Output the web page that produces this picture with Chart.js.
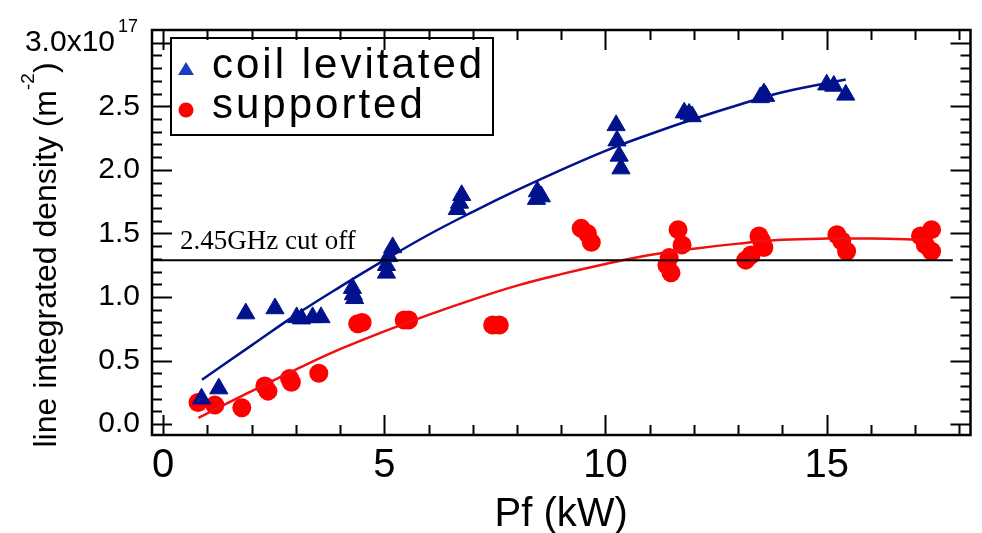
<!DOCTYPE html>
<html>
<head>
<meta charset="utf-8">
<script src="https://cdn.jsdelivr.net/npm/chart.js@4.4.1/dist/chart.umd.min.js"></script>
<style>
html, body { margin: 0; padding: 0; background: #fff; }
canvas { display: block; }
</style>
</head>
<body>
<canvas id="density-chart" width="982" height="533"></canvas>
<script>
// coil levitated (blue triangles)
var coilX = [0.87, 1.26, 1.87, 2.53, 3.02, 3.13, 3.38, 3.57, 4.28, 4.30, 4.33, 5.19, 5.10, 5.05, 5.05, 6.75, 6.70, 6.65, 8.46, 8.55, 8.44, 10.24, 10.26, 10.31, 10.35, 11.78, 11.89, 11.96, 13.50, 13.58, 13.62, 15.00, 15.16, 15.43];
var coilY = [0.20, 0.28, 0.87, 0.91, 0.84, 0.83, 0.84, 0.84, 1.07, 1.02, 0.99, 1.39, 1.32, 1.25, 1.19, 1.80, 1.74, 1.69, 1.83, 1.79, 1.77, 2.35, 2.23, 2.11, 2.01, 2.45, 2.44, 2.42, 2.57, 2.60, 2.58, 2.67, 2.66, 2.59];

// supported (red circles)
var suppX = [0.79, 1.17, 1.78, 2.30, 2.37, 2.86, 2.90, 3.52, 4.40, 4.50, 5.45, 5.55, 7.45, 7.60, 9.45, 9.59, 9.68, 11.64, 11.73, 11.44, 11.39, 11.48, 13.17, 13.29, 13.47, 13.53, 13.58, 15.23, 15.34, 15.45, 17.12, 17.37, 17.23, 17.37];
var suppY = [0.17, 0.15, 0.13, 0.30, 0.26, 0.36, 0.33, 0.40, 0.79, 0.80, 0.82, 0.82, 0.78, 0.78, 1.54, 1.50, 1.43, 1.53, 1.41, 1.31, 1.25, 1.19, 1.29, 1.33, 1.48, 1.44, 1.39, 1.49, 1.44, 1.36, 1.48, 1.53, 1.41, 1.36];

// fitted curves
var coilFitX = [0.88, 2, 3, 4, 5, 6, 7, 8, 9, 10, 11, 12, 13, 14, 15.43];
var coilFitY = [0.35, 0.62, 0.86, 1.08, 1.29, 1.49, 1.67, 1.84, 2.00, 2.15, 2.28, 2.40, 2.51, 2.61, 2.71];
var suppFitX = [0.80, 2, 3, 4, 5, 6, 7, 8, 9, 10, 11, 12, 13, 14, 15, 16, 17.25];
var suppFitY = [0.05, 0.26, 0.43, 0.59, 0.73, 0.86, 0.98, 1.09, 1.18, 1.26, 1.33, 1.38, 1.42, 1.45, 1.46, 1.46, 1.45];

// 2.45GHz cut off level
var cutX = [-0.25, 17.85];
var cutY = [1.29, 1.29];

var xTicks = [0, 5, 10, 15];
var yTicks = ['0.0', '0.5', '1.0', '1.5', '2.0', '2.5', '3.0x10'];

var FONT = '"Liberation Sans", Arial, sans-serif';

function pts(xs, ys) {
    return xs.map(function (x, i) { return {x: x, y: ys[i]}; });
}

// inward ticks on all four sides + frame
const frameTicks = {
    id: 'frameTicks',
    afterDraw(chart) {
        const {ctx, chartArea: {left, right, top, bottom}, scales: {x, y}} = chart;
        ctx.save();
        ctx.strokeStyle = '#000';
        ctx.lineWidth = 2;
        ctx.beginPath();
        for (let v = 0; v <= 18; v++) {
            const px = Math.round(x.getPixelForValue(v)) + 0.5;
            const len = v % 5 === 0 ? 20 : 10;
            ctx.moveTo(px, bottom); ctx.lineTo(px, bottom - len);
            ctx.moveTo(px, top); ctx.lineTo(px, top + len);
        }
        for (let i = 0; i <= 30; i++) {
            const py = Math.round(y.getPixelForValue(i / 10)) + 0.5;
            const len = i % 5 === 0 ? 20 : 10;
            ctx.moveTo(left, py); ctx.lineTo(left + len, py);
            ctx.moveTo(right, py); ctx.lineTo(right - len, py);
        }
        ctx.stroke();
        ctx.lineWidth = 2.5;
        ctx.strokeRect(left, top, right - left, bottom - top);

        // exponent on the top tick label
        ctx.fillStyle = '#000';
        ctx.font = '18px ' + FONT;
        ctx.textAlign = 'left';
        ctx.textBaseline = 'alphabetic';
        ctx.fillText('17', 118, y.getPixelForValue(3) - 11);
        ctx.restore();
    }
};

// legend box, annotation and y title
const extraText = {
    id: 'extraText',
    afterDatasetsDraw(chart) {
        const {ctx, chartArea: {left}, scales: {y}} = chart;
        ctx.save();

        // legend
        ctx.fillStyle = '#fff';
        ctx.fillRect(171, 38, 322, 97);
        ctx.strokeStyle = '#000';
        ctx.lineWidth = 2;
        ctx.strokeRect(171, 38, 322, 97);

        ctx.fillStyle = '#1c3cc4';
        ctx.beginPath();
        ctx.moveTo(186, 62);
        ctx.lineTo(194, 75);
        ctx.lineTo(178, 75);
        ctx.closePath();
        ctx.fill();
        ctx.fillStyle = '#ff0000';
        ctx.beginPath();
        ctx.arc(186, 110, 7.5, 0, Math.PI * 2);
        ctx.fill();

        ctx.fillStyle = '#000';
        ctx.font = '42px ' + FONT;
        ctx.letterSpacing = '3px';
        ctx.textAlign = 'left';
        ctx.textBaseline = 'alphabetic';
        ctx.fillText('coil levitated', 212, 78);
        ctx.fillText('supported', 212, 118);
        ctx.letterSpacing = '0px';

        // cut off label
        ctx.font = '27px "Liberation Serif", "Times New Roman", serif';
        ctx.fillText('2.45GHz cut off', left + 28, y.getPixelForValue(cutY[0]) - 11);

        // y axis title with superscript
        const main = 'line integrated density (m';
        ctx.translate(56, 255);
        ctx.rotate(-Math.PI / 2);
        ctx.font = '32px ' + FONT;
        const w1 = ctx.measureText(main).width;
        const w3 = ctx.measureText(')').width;
        ctx.font = '19px ' + FONT;
        const w2 = ctx.measureText('-2').width;
        let x0 = -(w1 + w2 + w3) / 2;
        ctx.font = '32px ' + FONT;
        ctx.fillText(main, x0, 0);
        ctx.font = '19px ' + FONT;
        ctx.fillText('-2', x0 + w1, -22);
        ctx.font = '32px ' + FONT;
        ctx.fillText(')', x0 + w1 + w2, 0);
        ctx.restore();
    }
};

var navy = '#00128c';
var red = '#ff0000';

var chartData = {
    datasets: [
        {
            label: '2.45GHz cut off',
            data: pts(cutX, cutY),
            showLine: true,
            borderColor: '#000',
            borderWidth: 2,
            pointRadius: 0,
            order: 0
        },
        {
            label: 'coil fit',
            data: pts(coilFitX, coilFitY),
            showLine: true,
            borderColor: navy,
            borderWidth: 2.5,
            pointRadius: 0,
            tension: 0.4,
            order: 1
        },
        {
            label: 'supported fit',
            data: pts(suppFitX, suppFitY),
            showLine: true,
            borderColor: '#f01010',
            borderWidth: 2.5,
            pointRadius: 0,
            tension: 0.4,
            order: 1
        },
        {
            label: 'coil levitated',
            data: pts(coilX, coilY),
            pointStyle: 'triangle',
            pointRadius: 10.5,
            backgroundColor: navy,
            borderColor: navy,
            borderWidth: 1,
            order: 2
        },
        {
            label: 'supported',
            data: pts(suppX, suppY),
            pointStyle: 'circle',
            pointRadius: 9.5,
            backgroundColor: red,
            borderColor: red,
            borderWidth: 0,
            order: 3
        }
    ]
};

var chartOptions = {
    responsive: false,
    animation: false,
    devicePixelRatio: 1,
    layout: {
        padding: {top: 24, right: 10, left: 0, bottom: 0}
    },
    plugins: {
        legend: {display: false},
        tooltip: {enabled: false}
    },
    scales: {
        x: {
            type: 'linear',
            min: -0.25,
            max: 18.25,
            afterFit: function (scale) { scale.height = 98; },
            afterBuildTicks: function (scale) {
                scale.ticks = xTicks.map(function (v) { return {value: v}; });
            },
            grid: {display: false, drawTicks: false},
            border: {display: false},
            ticks: {
                padding: 7,
                color: '#000',
                font: {family: FONT, size: 40},
                callback: function (v) { return String(v); }
            },
            title: {
                display: true,
                text: 'Pf (kW)',
                color: '#000',
                padding: 0,
                font: {family: FONT, size: 40, lineHeight: 0.9}
            }
        },
        y: {
            type: 'linear',
            min: -0.085,
            max: 3.1,
            afterFit: function (scale) { scale.width = 152; },
            afterBuildTicks: function (scale) {
                scale.ticks = yTicks.map(function (t, i) { return {value: i * 0.5}; });
            },
            grid: {display: false, drawTicks: false},
            border: {display: false},
            ticks: {
                padding: 12,
                color: '#000',
                font: {family: FONT, size: 30},
                callback: function (v, i) {
                    return i === yTicks.length - 1 ? yTicks[i] + '   ' : yTicks[i];
                }
            }
        }
    }
};

var ctx = document.getElementById('density-chart');
var densityChart = new Chart(ctx, {
    type: 'scatter',
    data: chartData,
    options: chartOptions,
    plugins: [extraText, frameTicks]
});
</script>
</body>
</html>
